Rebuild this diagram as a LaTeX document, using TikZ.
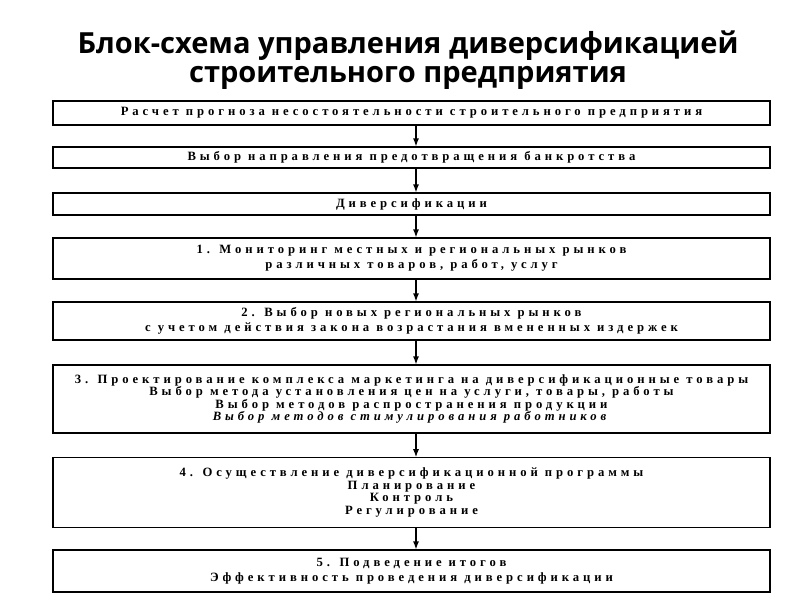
\documentclass[tikz,border=0pt]{standalone}
\usepackage{fontspec}
\setmainfont{Liberation Serif}
\newfontfamily\titlefont{Open Sans}
\newfontfamily\boxfont[LetterSpace=31]{Liberation Serif}
\usetikzlibrary{arrows.meta,calc}
\tikzset{
  blk/.style={draw=black, line width=0.9pt, minimum width=537.75pt, inner sep=0pt,
    align=center, font=\boxfont\bfseries\fontsize{9.5pt}{11.2pt}\selectfont},
  tight/.style={font=\boxfont\bfseries\fontsize{9.5pt}{9.3pt}\selectfont},
  arr/.style={draw=black, line width=0.9pt, -{Latex[length=6pt,width=4.5pt]}},
  ttl/.style={font=\titlefont\bfseries\fontsize{21.8pt}{26pt}\selectfont, align=center, inner sep=0pt}
}
\begin{document}
\begin{tikzpicture}[x=0.75pt,y=-0.75pt]
\useasboundingbox[fill=white] (0,0) rectangle (800,600);
\node[ttl] (t1) at (408,46) {Блок-схема управления диверсификацией};
\node[ttl] (t2) at (408,78) {строительного предприятия};
\node[blk, minimum height=18pt] (b1) at (411.5,113) {Расчет прогноза несостоятельности строительного предприятия};
\node[blk, minimum height=15.75pt] (b2) at (411.5,157.5) {Выбор направления предотвращения банкротства};
\node[blk, minimum height=16.5pt] (b3) at (411.5,204) {Диверсификации};
\node[blk, minimum height=30.75pt] (b4) at (411.5,258.5) {1. Мониторинг местных и региональных рынков\\различных товаров, работ, услуг};
\node[blk, minimum height=28.5pt] (b5) at (411.5,321) {2. Выбор новых региональных рынков\\с учетом действия закона возрастания вмененных издержек};
\node[blk, tight, minimum height=51pt] (b6) at (411.5,399) {3. Проектирование комплекса маркетинга на диверсификационные товары\\Выбор метода установления цен на услуги, товары, работы\\Выбор методов распространения продукции\\\textit{Выбор методов стимулирования работников}};
\node[blk, tight, minimum height=52pt] (b7) at (411.5,492.5) {4. Осуществление диверсификационной программы\\Планирование\\Контроль\\Регулирование};
\node[blk, minimum height=31.5pt] (b8) at (411.5,571) {5. Подведение итогов\\Эффективность проведения диверсификации};
\foreach \a/\b in {b1/b2,b2/b3,b3/b4,b4/b5,b5/b6,b6/b7,b7/b8}
  \draw[arr] ($(\a.south)+(4.5,0)$) -- ($(\b.north)+(4.5,0)$);
\end{tikzpicture}
\end{document}
